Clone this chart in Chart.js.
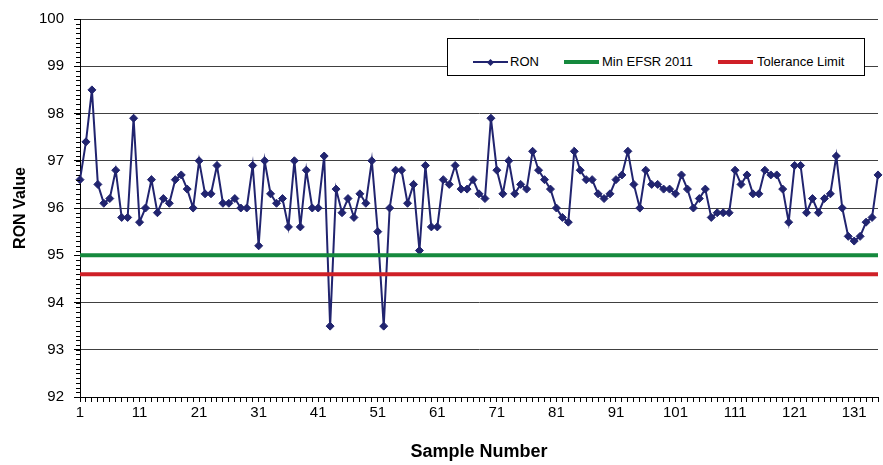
<!DOCTYPE html>
<html>
<head>
<meta charset="utf-8">
<script src="https://cdn.jsdelivr.net/npm/chart.js@4"></script>
<style>
  body { margin: 0; background: #fff; }
  #wrap { position: relative; width: 883px; height: 465px; }
  #legend {
    position: absolute; left: 447px; top: 38px; width: 416px; height: 36px;
    border: 1px solid #000; background: #fff;
    font: 13px "Liberation Sans", Arial, sans-serif; color: #000;
  }
  .swatch { position: absolute; width: 35px; }
  .lbl { position: absolute; top: 15px; line-height: 16px; white-space: nowrap; }
  .diamond { position: absolute; width: 5px; height: 5px; transform: rotate(45deg); }
</style>
</head>
<body>
<div id="wrap">
  <canvas id="ron-chart" width="883" height="465"></canvas>
  <div id="legend"></div>
</div>
<script>
// RON value per sample
const ron = [
  96.6, 97.4, 98.5, 96.5, 96.1, 96.2, 96.8, 95.8, 95.8, 97.9,
  95.7, 96.0, 96.6, 95.9, 96.2, 96.1, 96.6, 96.7, 96.4, 96.0,
  97.0, 96.3, 96.3, 96.9, 96.1, 96.1, 96.2, 96.0, 96.0, 96.9,
  95.2, 97.0, 96.3, 96.1, 96.2, 95.6, 97.0, 95.6, 96.8, 96.0,
  96.0, 97.1, 93.5, 96.4, 95.9, 96.2, 95.8, 96.3, 96.1, 97.0,
  95.5, 93.5, 96.0, 96.8, 96.8, 96.1, 96.5, 95.1, 96.9, 95.6,
  95.6, 96.6, 96.5, 96.9, 96.4, 96.4, 96.6, 96.3, 96.2, 97.9,
  96.8, 96.3, 97.0, 96.3, 96.5, 96.4, 97.2, 96.8, 96.6, 96.4,
  96.0, 95.8, 95.7, 97.2, 96.8, 96.6, 96.6, 96.3, 96.2, 96.3,
  96.6, 96.7, 97.2, 96.5, 96.0, 96.8, 96.5, 96.5, 96.4, 96.4,
  96.3, 96.7, 96.4, 96.0, 96.2, 96.4, 95.8, 95.9, 95.9, 95.9,
  96.8, 96.5, 96.7, 96.3, 96.3, 96.8, 96.7, 96.7, 96.4, 95.7,
  96.9, 96.9, 95.9, 96.2, 95.9, 96.2, 96.3, 97.1, 96.0, 95.4,
  95.3, 95.4, 95.7, 95.8, 96.7
];
const samples = ron.map((_, i) => String(i + 1));
const tickLabels = [1, 11, 21, 31, 41, 51, 61, 71, 81, 91, 101, 111, 121, 131];
const minEfsr = 95;
const toleranceLimit = 94.6;

const navy = '#21246f';
const green = '#15893d';
const red = '#cf2027';

Chart.defaults.font.family = '"Liberation Sans", Arial, sans-serif';
Chart.defaults.color = '#000';

// small 0.1 ticks on the value axis
const minorTicks = {
  id: 'minorTicks',
  afterDraw(chart) {
    const y = chart.scales.y;
    const ctx = chart.ctx;
    ctx.save();
    ctx.strokeStyle = '#000';
    ctx.lineWidth = 1;
    ctx.beginPath();
    for (let k = 0; k <= 80; k++) {
      const py = Math.round(y.getPixelForValue(92 + k / 10)) + 0.5;
      ctx.moveTo(y.right - 4, py);
      ctx.lineTo(y.right, py);
    }
    ctx.stroke();
    ctx.restore();
  }
};

const first = samples[0];
const last = samples[samples.length - 1];

const chart = new Chart(document.getElementById('ron-chart'), {
  type: 'line',
  data: {
    labels: samples,
    datasets: [
      {
        label: 'RON',
        data: ron,
        borderColor: navy,
        backgroundColor: navy,
        borderWidth: 2,
        pointStyle: 'rectRot',
        pointRadius: 4,
        pointBorderWidth: 1,
        tension: 0,
        order: 3
      },
      {
        label: 'Min EFSR 2011',
        data: [{ x: first, y: minEfsr }, { x: last, y: minEfsr }],
        borderColor: green,
        backgroundColor: green,
        borderWidth: 4,
        pointRadius: 0,
        order: 2
      },
      {
        label: 'Tolerance Limit',
        data: [{ x: first, y: toleranceLimit }, { x: last, y: toleranceLimit }],
        borderColor: red,
        backgroundColor: red,
        borderWidth: 4,
        pointRadius: 0,
        order: 1
      }
    ]
  },
  options: {
    responsive: false,
    animation: false,
    devicePixelRatio: 1,
    layout: { padding: { top: 16, right: 2, left: 0, bottom: 0 } },
    plugins: {
      legend: { display: false },
      tooltip: { enabled: false }
    },
    scales: {
      x: {
        type: 'category',
        offset: false,
        grid: { drawOnChartArea: false, drawTicks: true, tickLength: 5, color: '#000' },
        border: { color: '#000', width: 1 },
        ticks: {
          autoSkip: false, maxRotation: 0, minRotation: 0, padding: 2,
          font: { size: 15 },
          callback: function (val) {
            const n = Number(this.getLabelForValue(val));
            return tickLabels.includes(n) ? String(n) : '';
          }
        },
        title: {
          display: true, text: 'Sample Number',
          font: { size: 18, weight: 'bold' },
          padding: { top: 0, bottom: 2 }
        },
        afterFit(scale) { scale.height = 68; }
      },
      y: {
        min: 92,
        max: 100,
        ticks: { stepSize: 1, padding: 10, font: { size: 15 } },
        grid: { color: '#404040', tickLength: 6, tickColor: '#000' },
        border: { color: '#000', width: 1 },
        title: {
          display: true, text: 'RON Value',
          font: { size: 16, weight: 'bold' },
          padding: { top: 11, bottom: 0 }
        },
        afterFit(scale) { scale.width = 80; }
      }
    }
  },
  plugins: [minorTicks]
});

// legend box drawn as html over the plot
const legendBox = document.getElementById('legend');
const legendPos = [
  { line: 25, text: 62, h: 2 },
  { line: 116, text: 154, h: 4 },
  { line: 270, text: 309, h: 4 }
];
chart.data.datasets.forEach((ds, i) => {
  const p = legendPos[i];
  const sw = document.createElement('div');
  sw.className = 'swatch';
  sw.style.left = p.line + 'px';
  sw.style.top = (23 - p.h / 2) + 'px';
  sw.style.height = p.h + 'px';
  sw.style.background = ds.borderColor;
  legendBox.appendChild(sw);
  if (ds.pointStyle === 'rectRot') {
    const d = document.createElement('div');
    d.className = 'diamond';
    d.style.left = (p.line + 15) + 'px';
    d.style.top = '20.5px';
    d.style.background = ds.borderColor;
    legendBox.appendChild(d);
  }
  const t = document.createElement('span');
  t.className = 'lbl';
  t.style.left = p.text + 'px';
  t.textContent = ds.label;
  legendBox.appendChild(t);
});
</script>
</body>
</html>
